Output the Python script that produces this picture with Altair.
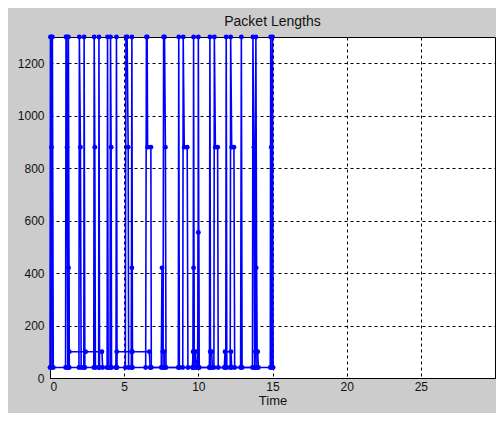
import altair as alt
import pandas as pd

# Flow A: large packets (1300 / 880 bytes) and ACKs (40)
time_a = [0.00, 0.03, 0.08, 0.10, 0.13, 0.16, 0.22,
          1.05, 1.08, 1.12, 1.15, 1.20, 1.24, 1.30,
          1.95, 1.98, 2.05, 2.10, 2.28, 2.30, 2.35,
          2.95, 2.98, 3.02, 3.06, 3.28, 3.30, 3.34,
          3.85, 3.88, 3.92, 4.05, 4.08, 4.12, 4.15, 4.45, 4.48, 4.52,
          5.08, 5.12, 5.20, 5.27, 5.30, 5.48, 5.52, 5.56,
          6.45, 6.50, 6.55, 6.58, 6.80, 6.83,
          7.62, 7.66, 7.72, 7.78, 7.82,
          8.65, 8.68, 8.72, 8.95, 8.98, 9.05, 9.25, 9.30,
          9.65, 9.68, 9.72, 9.98, 10.00, 10.05,
          10.75, 10.78, 10.82, 11.05, 11.08, 11.15, 11.30, 11.34,
          11.85, 11.88, 11.92, 12.15, 12.18, 12.25, 12.40, 12.45,
          12.85, 12.90, 12.95, 13.65, 13.68, 13.75, 13.80, 13.88, 13.95,
          14.85, 14.88, 14.92, 14.95, 15.00, 15.04]
len_a = [40, 1300, 1300, 880, 40, 1300, 40,
         40, 1300, 1300, 880, 40, 1300, 40,
         40, 1300, 880, 40, 40, 1300, 40,
         40, 1300, 880, 40, 40, 1300, 40,
         40, 1300, 40, 40, 1300, 880, 40, 40, 1300, 40,
         40, 1300, 1300, 880, 40, 40, 1300, 40,
         40, 1300, 1300, 880, 880, 40,
         40, 1300, 1300, 880, 40,
         40, 1300, 40, 40, 1300, 880, 880, 40,
         40, 1300, 40, 40, 1300, 40,
         40, 1300, 40, 40, 1300, 880, 880, 40,
         40, 1300, 40, 40, 1300, 880, 880, 40,
         40, 1300, 40, 40, 1300, 880, 40, 1300, 40,
         40, 1300, 880, 40, 1300, 40]

# Flow B: small packets (100 / 420 / 555 bytes)
time_b = [1.20, 1.25, 1.30, 2.40, 3.50, 3.55,
          4.45, 4.50, 5.50, 5.52, 5.55, 6.70, 6.75,
          7.50, 7.55, 7.60, 7.70, 7.75,
          9.60, 9.65, 9.68, 9.72, 9.80, 9.85,
          9.95, 10.00, 10.05,
          10.75, 10.80, 10.90, 10.95,
          11.75, 11.80, 12.20, 12.25,
          13.80, 13.85, 13.90, 13.95, 14.00, 14.05]
len_b = [40, 420, 100, 100, 100, 40,
         40, 100, 100, 420, 100, 100, 40,
         40, 420, 100, 100, 40,
         40, 100, 420, 100, 100, 40,
         60, 555, 40,
         40, 100, 100, 40,
         40, 100, 100, 40,
         40, 100, 420, 100, 100, 40]

x_ticks = [0, 5, 10, 15, 20, 25]
y_ticks = [0, 200, 400, 600, 800, 1000, 1200]

df = pd.DataFrame({
    "Time": time_a + time_b,
    "Length": len_a + len_b,
    "flow": ["A"] * len(time_a) + ["B"] * len(time_b),
    "idx": list(range(len(time_a))) + list(range(len(time_b))),
})

FONT = "Liberation Sans"

chart = alt.Chart(df).mark_line(
    color="#0000ff",
    strokeWidth=1.6,
    clip=False,
    point=alt.OverlayMarkDef(filled=True, size=24, color="#0000ff"),
).encode(
    x=alt.X("Time:Q", scale=alt.Scale(domain=[0, 30], nice=False),
            axis=alt.Axis(values=x_ticks, title="Time", format="d")),
    y=alt.Y("Length:Q", scale=alt.Scale(domain=[0, 1300], nice=False),
            axis=alt.Axis(values=y_ticks, title=None, format="d")),
    detail="flow:N",
    order="idx:Q",
).properties(
    width=445,
    height=341,
    title=alt.TitleParams("Packet Lengths", font=FONT, fontSize=14, fontWeight="normal",
                          color="#111111", anchor="middle", baseline="alphabetic",
                          offset=0, dy=6),
    autosize=alt.AutoSizeParams(type="none"),
    padding={"left": 42, "top": 29, "right": 1, "bottom": 35},
    background="#cccccc",
).configure_view(
    fill="white", stroke="black", strokeWidth=1,
).configure_axis(
    labelFont=FONT, labelFontSize=12, labelColor="#111111",
    titleFont=FONT, titleFontSize=13, titleColor="#111111", titleFontWeight="normal",
    domainColor="black", domainWidth=1,
    tickSize=0, titlePadding=2,
    grid=True, gridColor="black", gridDash=[3, 3], gridWidth=1, gridOpacity=1,
).configure_axisX(
    labelPadding=3,
).configure_axisY(
    labelPadding=6,
)

chart.save("out.html", embed_options={"renderer": "svg", "actions": False})
